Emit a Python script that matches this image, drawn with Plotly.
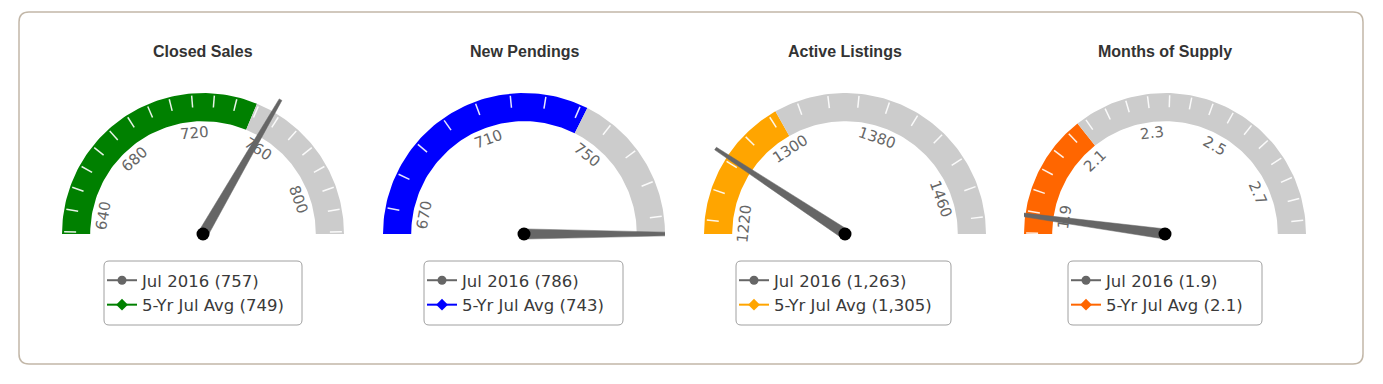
import numpy as np
import plotly.graph_objects as go

# ---------------- data ----------------
titles = ["Closed Sales", "New Pendings", "Active Listings", "Months of Supply"]
current_values = [757, 786, 1263, 1.89]
average_values = [749, 742, 1305, 2.13]
current_text = ["757", "786", "1,263", "1.9"]
average_text = ["749", "743", "1,305", "2.1"]
scale_min = [629, 662.7, 1211, 1.848]
scale_max = [821, 785, 1491, 2.831]
tick_step = [10, 10, 20, 0.05]
tick_labels = [[640, 680, 720, 760, 800],
               [670, 710, 750],
               [1220, 1300, 1380, 1460],
               [1.9, 2.1, 2.3, 2.5, 2.7]]
band_colors = ["#008000", "#0000ff", "#ffa500", "#ff6600"]
current_period = "Jul 2016"
average_period = "5-Yr Jul Avg"

# ---------------- layout constants (page pixels) ----------------
OFF = 8                      # default page margin of the html body
W, H = 1383 - OFF, 384 - OFF
centers_px = [203, 524, 845, 1165]
cy_px = 234
R_px = 141
inner_r = 0.8
legend_boxes = [(104, 302), (424, 623), (736, 951), (1068, 1262)]
legend_top, legend_bottom = 261, 325
y_top_px, y_bot_px = 60, 252

NEEDLE = "#666666"
GREY = "#cccccc"


def fx(p):
    return (p - OFF) / W


def fy(p):
    return 1 - (p - OFF) / H


def angle(v, lo, hi):
    f = (v - lo) / (hi - lo)
    f = min(max(f, 0.0), 1.0)
    return np.pi * (1 - f)


def band(a, b, lo, hi):
    t = np.linspace(angle(a, lo, hi), angle(b, lo, hi), 80)
    xs = np.concatenate([np.cos(t), inner_r * np.cos(t[::-1])])
    ys = np.concatenate([np.sin(t), inner_r * np.sin(t[::-1])])
    return np.append(xs, xs[0]), np.append(ys, ys[0])


fig = go.Figure()
annotations = []
shapes = []

for i in range(4):
    ax = "" if i == 0 else str(i + 1)
    xa, ya = "x" + ax, "y" + ax
    lo, hi = scale_min[i], scale_max[i]
    avg, cur = average_values[i], current_values[i]
    leg = "legend" if i == 0 else "legend" + str(i + 1)

    # coloured band up to the 5-yr average, grey to the max
    bx, by = band(lo, avg, lo, hi)
    fig.add_trace(go.Scatter(x=bx, y=by, fill="toself", fillcolor=band_colors[i],
                             mode="lines", line=dict(width=0), hoverinfo="skip",
                             showlegend=False, xaxis=xa, yaxis=ya))
    gx, gy = band(avg, hi, lo, hi)
    fig.add_trace(go.Scatter(x=gx, y=gy, fill="toself", fillcolor=GREY,
                             mode="lines", line=dict(width=0), hoverinfo="skip",
                             showlegend=False, xaxis=xa, yaxis=ya))

    # minor ticks
    step = tick_step[i]
    k0 = int(np.ceil(lo / step - 1e-9))
    k1 = int(np.floor(hi / step + 1e-9))
    tx, ty = [], []
    for k in range(k0, k1 + 1):
        t = angle(k * step, lo, hi)
        tx += [0.985 * np.cos(t), 0.90 * np.cos(t), None]
        ty += [0.985 * np.sin(t), 0.90 * np.sin(t), None]
    fig.add_trace(go.Scatter(x=tx, y=ty, mode="lines",
                             line=dict(color="rgba(255,255,255,0.9)", width=1.5),
                             hoverinfo="skip", showlegend=False, xaxis=xa, yaxis=ya))

    # tick labels (rotated along the arc)
    for v in tick_labels[i]:
        t = angle(v, lo, hi)
        annotations.append(dict(
            x=0.72 * np.cos(t), y=0.72 * np.sin(t), xref=xa, yref=ya,
            text=f"{v:g}", showarrow=False, textangle=90 - np.degrees(t),
            xanchor="center", yanchor="middle",
            font=dict(family="DejaVu Sans", size=15, color="#666666")))

    # needle
    t = angle(cur, lo, hi)
    L, wb, wt = 1.1, 0.036, 0.011
    ux, uy = np.cos(t), np.sin(t)
    px_, py_ = -uy, ux
    nx = [wb * px_, L * ux + wt * px_, L * ux - wt * px_, -wb * px_, wb * px_]
    ny = [wb * py_, L * uy + wt * py_, L * uy - wt * py_, -wb * py_, wb * py_]
    fig.add_trace(go.Scatter(x=nx, y=ny, fill="toself", fillcolor=NEEDLE,
                             mode="lines", line=dict(width=0.5, color=NEEDLE),
                             hoverinfo="skip", showlegend=False, xaxis=xa, yaxis=ya))
    fig.add_trace(go.Scatter(x=[0], y=[0], mode="markers",
                             marker=dict(size=13, color="black"),
                             hoverinfo="skip", showlegend=False, xaxis=xa, yaxis=ya))

    # legend entries
    fig.add_trace(go.Scatter(x=[None], y=[None], mode="lines+markers",
                             name=f"{current_period} ({current_text[i]})",
                             line=dict(color=NEEDLE, width=2),
                             marker=dict(symbol="circle", size=9, color=NEEDLE),
                             legend=leg, xaxis=xa, yaxis=ya))
    fig.add_trace(go.Scatter(x=[None], y=[None], mode="lines+markers",
                             name=f"{average_period} ({average_text[i]})",
                             line=dict(color=band_colors[i], width=2),
                             marker=dict(symbol="diamond", size=9, color=band_colors[i]),
                             legend=leg, xaxis=xa, yaxis=ya))

    # axes
    c = centers_px[i]
    fig.update_layout(**{
        ("xaxis" + ax): dict(domain=[fx(c - R_px), fx(c + R_px)], range=[-1, 1],
                             visible=False, fixedrange=True),
        ("yaxis" + ax): dict(domain=[fy(y_bot_px), fy(y_top_px)],
                             range=[(cy_px - y_bot_px) / R_px, (cy_px - y_top_px) / R_px],
                             visible=False, fixedrange=True),
    })

    # title
    annotations.append(dict(x=fx(c), y=fy(51), xref="paper", yref="paper",
                            text=f"<b>{titles[i]}</b>", showarrow=False,
                            xanchor="center", yanchor="middle",
                            font=dict(family="Liberation Sans", size=16, color="#333333")))

    # legend
    bl, br = legend_boxes[i]
    fig.update_layout(**{leg: dict(
        x=fx(bl - 2), y=fy(legend_top + 2), xanchor="left", yanchor="top",
        bgcolor="rgba(0,0,0,0)", borderwidth=0, tracegroupgap=0, itemwidth=30,
        font=dict(family="DejaVu Sans", size=16.5, color="#3a3a3a"))})


def rounded_rect(x0, y0, x1, y1, r):
    return (f"M{fx(x0 + r)},{fy(y0)} L{fx(x1 - r)},{fy(y0)} Q{fx(x1)},{fy(y0)} {fx(x1)},{fy(y0 + r)} "
            f"L{fx(x1)},{fy(y1 - r)} Q{fx(x1)},{fy(y1)} {fx(x1 - r)},{fy(y1)} "
            f"L{fx(x0 + r)},{fy(y1)} Q{fx(x0)},{fy(y1)} {fx(x0)},{fy(y1 - r)} "
            f"L{fx(x0)},{fy(y0 + r)} Q{fx(x0)},{fy(y0)} {fx(x0 + r)},{fy(y0)} Z")


shapes.append(dict(type="path", xref="paper", yref="paper",
                   path=rounded_rect(19, 12, 1363, 364, 10),
                   line=dict(color="#c2b7a8", width=1.5), layer="below"))
for bl, br in legend_boxes:
    shapes.append(dict(type="path", xref="paper", yref="paper",
                       path=rounded_rect(bl, legend_top, br, legend_bottom, 5),
                       line=dict(color="#a0a0a0", width=1), layer="below"))

fig.update_layout(width=W, height=H, margin=dict(l=0, r=0, t=0, b=0),
                  paper_bgcolor="white", plot_bgcolor="rgba(0,0,0,0)",
                  annotations=annotations, shapes=shapes, showlegend=True)

fig.write_html("out.html")
